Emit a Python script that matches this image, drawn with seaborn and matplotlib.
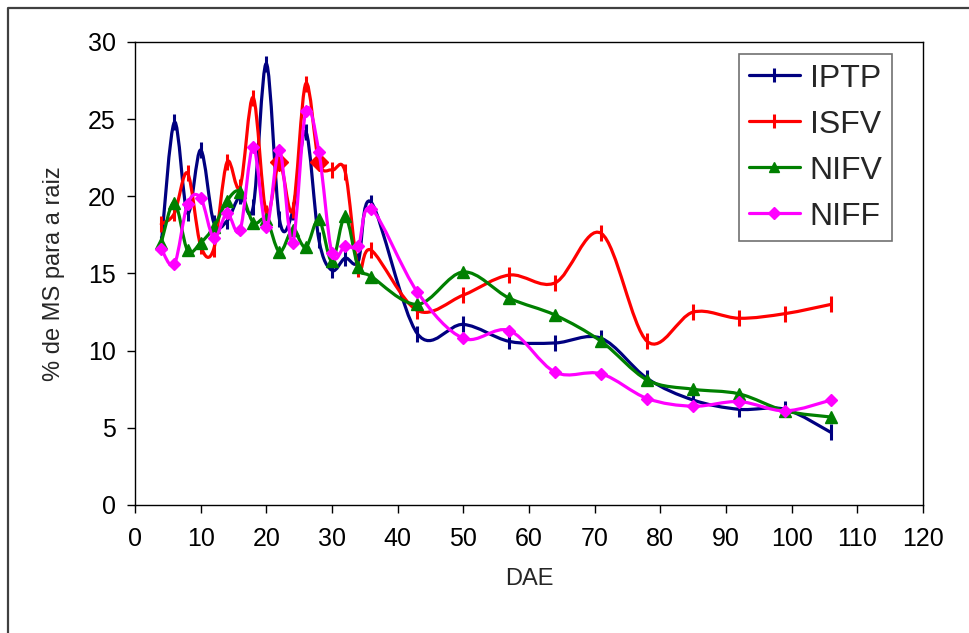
import numpy as np
import pandas as pd
import seaborn as sns
import matplotlib.pyplot as plt
from matplotlib.path import Path
from matplotlib.patches import PathPatch
from matplotlib.lines import Line2D

# DAE sampling days
dae = [4, 6, 8, 10, 12, 14, 16, 18, 20, 22, 24, 26, 28, 30, 32, 34, 36,
       43, 50, 57, 64, 71, 78, 85, 92, 99, 106]

iptp = [16.9, 24.8, 18.9, 23.0, 18.3, 18.4, 20.0, 19.3, 28.6, 18.5, 19.0, 24.2, 17.2,
        15.2, 16.0, 15.8, 19.6, 11.1, 11.7, 10.6, 10.5, 10.8, 8.2, 6.8, 6.2, 6.2, 4.7]
isfv = [18.2, 18.9, 21.5, 16.8, 16.6, 22.2, 20.6, 26.4, 18.9, 22.2, 19.1, 27.3, 22.2,
        21.7, 21.6, 15.3, 16.5, 12.6, 13.6, 14.9, 14.4, 17.6, 10.6, 12.5, 12.1, 12.4, 13.0]
nifv = [17.0, 19.6, 16.5, 17.0, 18.0, 19.7, 20.3, 18.3, 18.5, 16.4, 17.8, 16.7, 18.5,
        15.8, 18.7, 15.4, 14.8, 13.0, 15.1, 13.4, 12.3, 10.6, 8.1, 7.5, 7.2, 6.1, 5.7]
niff = [16.6, 15.6, 19.5, 19.9, 17.3, 18.9, 17.8, 23.2, 18.0, 23.0, 17.0, 25.5, 22.9,
        16.3, 16.8, 16.8, 19.2, 13.8, 10.8, 11.3, 8.6, 8.5, 6.9, 6.4, 6.7, 6.1, 6.8]

# ISFV points drawn with a big diamond in the original
isfv_diamond_days = [22, 28]

series = [
    ("IPTP", iptp, "#000080", "|", 11, 2.2),
    ("ISFV", isfv, "#FF0000", "|", 11, 2.2),
    ("NIFV", nifv, "#008000", "^", 8, 1.0),
    ("NIFF", niff, "#FF00FF", "D", 6.5, 1.0),
]


def smooth_path(x, y):
    # Excel-like smoothed line: cubic bezier through every point
    pts = np.column_stack([x, y]).astype(float)
    n = len(pts)
    verts = [pts[0]]
    codes = [Path.MOVETO]
    for i in range(n - 1):
        p0 = pts[max(i - 1, 0)]
        p1 = pts[i]
        p2 = pts[i + 1]
        p3 = pts[min(i + 2, n - 1)]
        verts += [p1 + (p2 - p0) / 6.0, p2 - (p3 - p1) / 6.0, p2]
        codes += [Path.CURVE4] * 3
    return Path(verts, codes)


sns.set_style("white")
plt.rcParams['font.family'] = ['Liberation Sans', 'DejaVu Sans']

fig = plt.figure(figsize=(9.69, 6.33), dpi=100)
ax = fig.add_axes([135 / 969, 1 - 505 / 633, (923 - 135) / 969, (505 - 42) / 633])

handles = []
for z, (name, vals, col, mk, ms, mew) in enumerate(series):
    patch = PathPatch(smooth_path(dae, vals), fill=False, edgecolor=col, lw=2.3,
                      capstyle='round', joinstyle='round', zorder=2 + z)
    ax.add_patch(patch)
    ax.plot(dae, vals, ls='none', marker=mk, ms=ms, color=col, mec=col, mew=mew, zorder=2.5 + z)
    if name == "ISFV":
        dd = pd.DataFrame({"dae": dae, "v": vals})
        dd = dd[dd["dae"].isin(isfv_diamond_days)]
        ax.plot(dd["dae"], dd["v"], ls='none', marker='D', ms=9, color=col, zorder=2.6 + z)
    handles.append(Line2D([], [], color=col, lw=2.3, marker=mk, ms=ms * 0.9, mew=mew, label=name))

ax.set_xlim(0, 120)
ax.set_ylim(0, 30)
ax.set_xticks(np.arange(0, 121, 10))
ax.set_yticks(np.arange(0, 31, 5))
ax.tick_params(axis='both', direction='out', length=6, width=1, colors='black',
               labelsize=18, bottom=True, left=True)
ax.tick_params(axis='x', pad=10)
ax.tick_params(axis='y', pad=8)
for s in ax.spines.values():
    s.set_color('black')
    s.set_linewidth(1.0)

ax.set_xlabel("DAE", fontsize=17, labelpad=12)
ax.set_ylabel("% de MS para a raiz", fontsize=17, labelpad=16)

leg = ax.legend(handles=handles, loc='upper right', bbox_to_anchor=(0.9607, 0.974),
                borderaxespad=0, fontsize=23, handlelength=1.6, handletextpad=0.3,
                labelspacing=0.5, borderpad=0.3, frameon=True, fancybox=False)
leg.get_frame().set_edgecolor('0.3')
leg.get_frame().set_linewidth(1.2)

# outer chart frame (left and top edges visible)
fig.add_artist(Line2D([8 / 969, 8 / 969, 1.0], [0.0, 1 - 8 / 633, 1 - 8 / 633],
                      transform=fig.transFigure, color='0.25', lw=1.6))

fig.savefig("out.png", dpi=100)
